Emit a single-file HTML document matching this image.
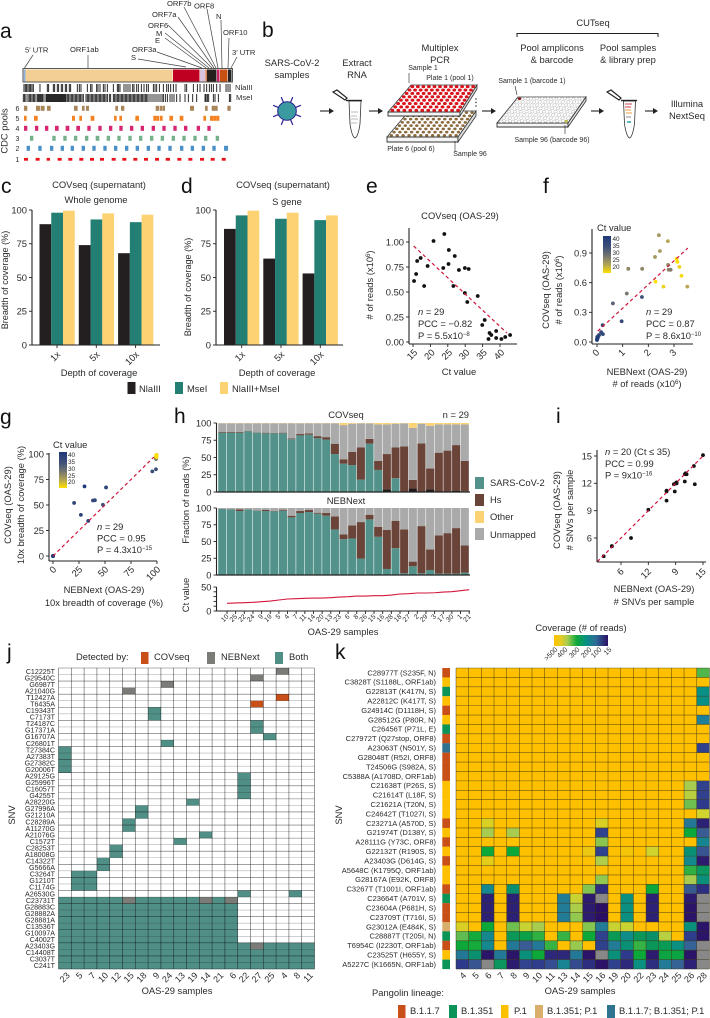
<!DOCTYPE html>
<html>
<head>
<meta charset="utf-8">
<title>CUTseq figure</title>
<style>
html,body{margin:0;padding:0;background:#fff;}
svg{display:block;font-family:"Liberation Sans",sans-serif;fill:#222;}
text{fill:#2a2a2a;}
.l{font-size:21px;fill:#111;}
.s9{font-size:9.4px;}
.s8{font-size:7.6px;}
.s7{font-size:7px;}
.m{text-anchor:middle;}
</style>
</head>
<body>
<svg id="fig" xmlns="http://www.w3.org/2000/svg" width="710" height="1018" viewBox="0 0 710 1018">
<defs>
<linearGradient id="ctGrad" x1="0" y1="0" x2="0" y2="1">
<stop offset="0" stop-color="#1e3a78"/><stop offset=".3" stop-color="#3f5078"/><stop offset=".55" stop-color="#77776e"/><stop offset=".78" stop-color="#b5a550"/><stop offset="1" stop-color="#ffe100"/>
</linearGradient>
<linearGradient id="covGrad" x1="0" y1="0" x2="1" y2="0">
<stop offset="0" stop-color="#ffc000"/><stop offset=".12" stop-color="#e8cc20"/><stop offset=".25" stop-color="#a8cc50"/><stop offset=".42" stop-color="#0da83a"/><stop offset=".6" stop-color="#0a8f86"/><stop offset=".78" stop-color="#2f6a96"/><stop offset="1" stop-color="#2b0f63"/>
</linearGradient>
</defs>

<!-- panel letters -->
<text class="l" x="0" y="38">a</text>
<text class="l" x="262" y="37">b</text>
<text class="l" x="1" y="193">c</text>
<text class="l" x="181" y="193">d</text>
<text class="l" x="366" y="193">e</text>
<text class="l" x="543" y="193">f</text>
<text class="l" x="0" y="424">g</text>
<text class="l" x="174" y="423">h</text>
<text class="l" x="556" y="423">i</text>
<text class="l" x="7" y="659">j</text>
<text class="l" x="335" y="659">k</text>

<!-- panel a -->
<g id="panelA">
<rect x="23" y="68.5" width="209.5" height="13.5" fill="#fff" stroke="#555" stroke-width="1"/>
<rect x="23.8" y="69.5" width="1.8" height="12" fill="#8fb3d9"/>
<rect x="25.6" y="69.5" width="147" height="12" fill="#f4cf95"/>
<rect x="173" y="69.5" width="26.5" height="12" fill="#c00020"/>
<rect x="200" y="69.5" width="5" height="12" fill="#d8c4dc"/>
<rect x="205.5" y="69.5" width="1.2" height="12" fill="#c85010"/>
<rect x="207" y="69.5" width="9.5" height="12" fill="#26201c"/>
<rect x="217" y="69.5" width="2.5" height="12" fill="#cc2060"/>
<rect x="220" y="69.5" width="7.5" height="12" fill="#c85010"/>
<rect x="228" y="69.5" width="3.5" height="12" fill="#222"/>
<g stroke="#444" stroke-width=".7">
<line x1="33" y1="55" x2="24.5" y2="68"/><line x1="88" y1="55" x2="88" y2="68"/><line x1="138" y1="59" x2="186" y2="67"/>
<line x1="157" y1="52" x2="202" y2="68"/><line x1="165" y1="38" x2="206" y2="68"/><line x1="165" y1="33" x2="209" y2="68"/>
<line x1="168" y1="25" x2="212" y2="68"/><line x1="178" y1="17" x2="214" y2="68"/><line x1="184" y1="7" x2="216" y2="68"/>
<line x1="207" y1="9" x2="218" y2="68"/><line x1="221" y1="20" x2="222" y2="68"/><line x1="229" y1="38" x2="228" y2="68"/><line x1="237" y1="57" x2="231" y2="68"/>
</g>
<g class="s8">
<text x="25" y="52.5">5′ UTR</text><text x="70" y="52">ORF1ab</text><text x="131" y="60">S</text><text x="132" y="52">ORF3a</text>
<text x="155" y="43">E</text><text x="156" y="36">M</text><text x="148" y="28">ORF6</text><text x="152" y="17">ORF7a</text>
<text x="167" y="6">ORF7b</text><text x="194" y="8.5">ORF8</text><text x="216" y="19">N</text><text x="223" y="35">ORF10</text><text x="232" y="55">3′ UTR</text>
<text x="235" y="90">NlaIII</text><text x="236" y="100">MseI</text>
</g>
<g class="s7">
<text x="15.5" y="111">6</text><text x="15.5" y="121">5</text><text x="15.5" y="131">4</text><text x="15.5" y="141">3</text><text x="15.5" y="151">2</text><text x="15.5" y="162">1</text>
</g>
<text class="s9 m" transform="translate(7.5,131) rotate(-90)">CDC pools</text>
</g>

<!-- panel b -->
<g id="panelB">
<g class="s9 m">
<text x="292" y="66">SARS-CoV-2</text><text x="292" y="78">samples</text>
<text x="357" y="66">Extract</text><text x="357" y="78">RNA</text>
<text x="440" y="51">Multiplex</text><text x="440" y="63">PCR</text>
<text x="552" y="51">Pool amplicons</text><text x="552" y="63">&amp; barcode</text>
<text x="628" y="51">Pool samples</text><text x="628" y="63">&amp; library prep</text>
<text x="593" y="26">CUTseq</text>
<text x="687" y="107">Illumina</text><text x="687" y="119">NextSeq</text>
</g>
<path d="M517 37V33.5H658V37" fill="none" stroke="#222" stroke-width="1"/>
<g class="s7 m">
<text x="423" y="70">Sample 1</text><text x="450" y="80">Plate 1 (pool 1)</text>
<text x="532" y="83">Sample 1 (barcode 1)</text><text x="552" y="142">Sample 96 (barcode 96)</text>
<text x="411" y="151">Plate 6 (pool 6)</text><text x="470" y="156">Sample 96</text>
</g>
<g>
<g stroke="#2a1f8f" stroke-width="1.2" id="virusSpikes"></g>
<circle cx="287" cy="111" r="9.3" fill="#3a9aa0" stroke="#2a1f8f" stroke-width="1"/>
</g>
<g id="wfArrows"></g>
<g>
<path d="M349 101H361L360 124Q358 137 355 138Q352 137 350 124Z" fill="#fff" stroke="#333" stroke-width=".8"/>
<path d="M346 100.5H362" stroke="#222" stroke-width="1.4"/>
<path d="M333 92L337 90L347 98L345 100Z" fill="#fff" stroke="#222" stroke-width="1.2"/>
<path d="M351 112H358M351 116H357M351 119H358M351 123H357" stroke="#bbb" stroke-width=".9"/>
</g>
<g>
<path d="M623.5 101H635.5L634.5 124Q632.5 137 629.5 138Q626.5 137 624.5 124Z" fill="#fff" stroke="#333" stroke-width=".8"/>
<path d="M621 100.5H637" stroke="#222" stroke-width="1.4"/>
<path d="M607 92L611 90L621 98L619 100Z" fill="#fff" stroke="#222" stroke-width="1.2"/>
<path d="M625 104H632M625 107H631" stroke="#c44" stroke-width="1"/>
<path d="M625 110H631M626 113H632" stroke="#e8a33a" stroke-width="1"/>
<path d="M626 117H631" stroke="#888" stroke-width="1"/>
<path d="M627 122H631" stroke="#1a9a9a" stroke-width="1.4"/>
</g>
<g id="plates"></g>
<path d="M409 73V83M515 86L517 95M565 134V125M455 152V141" stroke="#222" stroke-width=".6" fill="none"/>
<g fill="#222"><circle cx="476" cy="99" r=".7"/><circle cx="476" cy="102.5" r=".7"/><circle cx="476" cy="106" r=".7"/></g>
</g>

<!-- titles -->
<g class="s9">
<text class="m" x="99" y="188">COVseq (supernatant)</text><text class="m" x="96" y="203">Whole genome</text>
<text class="m" x="283" y="188">COVseq (supernatant)</text><text class="m" x="287" y="205">S gene</text>
<text class="m" x="460" y="219">COVseq (OAS-29)</text>
<text class="m" x="346" y="418">COVseq</text><text text-anchor="end" x="469" y="418">n = 29</text><text class="m" x="346" y="504">NEBNext</text>
</g>
<g class="s9">
<text class="m" font-size="9.1" style="font-size:9.1px" transform="translate(8,280) rotate(-90)">Breadth of coverage (%)</text>
<text class="m" font-size="9.1" style="font-size:9.1px" transform="translate(191,287) rotate(-90)">Breadth of coverage (%)</text>
<text class="m" x="99" y="376">Depth of coverage</text><text class="m" x="277" y="376">Depth of coverage</text>
<text class="m" transform="translate(373,285) rotate(-90)"># of reads (x10<tspan font-size="6" dy="-3">6</tspan><tspan dy="3">)</tspan></text>
<text class="m" x="459" y="375">Ct value</text>
<text class="m" transform="translate(549,290) rotate(-90)">COVseq (OAS-29)</text>
<text class="m" transform="translate(562,290) rotate(-90)"># of reads (x10<tspan font-size="6" dy="-3">6</tspan><tspan dy="3">)</tspan></text>
<text class="m" x="647" y="375">NEBNext (OAS-29)</text>
<text class="m" x="647" y="387"># of reads (x10<tspan font-size="6" dy="-3">6</tspan><tspan dy="3">)</tspan></text>
<text class="m" transform="translate(11,505) rotate(-90)">COVseq (OAS-29)</text>
<text class="m" transform="translate(24,505) rotate(-90)">10x breadth of coverage (%)</text>
<text class="m" x="104" y="593">NEBNext (OAS-29)</text><text class="m" x="104" y="606">10x breadth of coverage (%)</text>
<text class="m" transform="translate(189,500) rotate(-90)">Fraction of reads (%)</text>
<text class="m" transform="translate(189,595) rotate(-90)">Ct value</text>
<text class="m" x="343" y="635">OAS-29 samples</text>
<text class="m" transform="translate(560,510) rotate(-90)">COVseq (OAS-29)</text>
<text class="m" transform="translate(573,510) rotate(-90)"># SNVs per sample</text>
<text class="m" x="654" y="592">NEBNext (OAS-29)</text><text class="m" x="654" y="605"># SNVs per sample</text>
<text class="m" transform="translate(15,815) rotate(-90)">SNV</text>
<text class="m" x="177" y="994">OAS-29 samples</text>
<text class="m" transform="translate(342,815) rotate(-90)">SNV</text>
<text class="m" x="580" y="994">OAS-29 samples</text>
<text class="m" x="581" y="631">Coverage (# of reads)</text>
</g>

<!-- stats -->
<g class="s9">
<text x="418" y="315"><tspan font-style="italic">n</tspan> = 29</text><text x="418" y="327">PCC = −0.82</text><text x="418" y="339">P = 5.5x10<tspan font-size="6" dy="-3">−8</tspan></text>
<text x="646" y="315"><tspan font-style="italic">n</tspan> = 29</text><text x="646" y="327">PCC = 0.87</text><text x="646" y="339">P = 8.6x10<tspan font-size="6" dy="-3">−10</tspan></text>
<text x="97" y="530"><tspan font-style="italic">n</tspan> = 29</text><text x="97" y="541.5">PCC = 0.95</text><text x="97" y="553">P = 4.3x10<tspan font-size="6" dy="-3">−15</tspan></text>
<text x="605" y="455"><tspan font-style="italic">n</tspan> = 20 (Ct ≤ 35)</text><text x="605" y="467">PCC = 0.99</text><text x="605" y="478.5">P = 9x10<tspan font-size="6" dy="-3">−16</tspan></text>
</g>

<!-- legends -->
<g class="s9">
<rect x="127.5" y="382" width="8" height="12" fill="#231f20"/><text x="139" y="392">NlaIII</text>
<rect x="175" y="382" width="8" height="12" fill="#237f74"/><text x="187" y="392">MseI</text>
<rect x="220" y="382" width="8" height="12" fill="#fdd272"/><text x="232" y="392">NlaIII+MseI</text>
</g>
<g class="s9">
<rect x="475" y="477" width="9" height="12" fill="#52928a"/><text x="490" y="486">SARS-CoV-2</text>
<rect x="475" y="494" width="9" height="12" fill="#6b4439"/><text x="490" y="503">Hs</text>
<rect x="475" y="511" width="9" height="12" fill="#fdd272"/><text x="490" y="520">Other</text>
<rect x="475" y="528" width="9" height="12" fill="#a9aaa9"/><text x="490" y="538">Unmapped</text>
</g>
<g>
<text class="s9" x="597" y="231">Ct value</text>
<rect x="603" y="236" width="8" height="37" fill="url(#ctGrad)"/>
<g font-size="6.4"><text x="612.5" y="241">40</text><text x="612.5" y="248">35</text><text x="612.5" y="255">30</text><text x="612.5" y="262">25</text><text x="612.5" y="269">20</text></g>
</g>
<g>
<text class="s9" x="53" y="448">Ct value</text>
<rect x="59" y="452" width="8" height="36" fill="url(#ctGrad)"/>
<g font-size="6.4"><text x="68" y="457">40</text><text x="68" y="464">35</text><text x="68" y="471">30</text><text x="68" y="478">25</text><text x="68" y="484">20</text></g>
</g>
<g class="s9">
<text x="76" y="660">Detected by:</text>
<rect x="141" y="652" width="7.5" height="12" fill="#c84f17"/><text x="154" y="660">COVseq</text>
<rect x="207" y="652" width="8" height="12" fill="#7b7b78"/><text x="221" y="660">NEBNext</text>
<rect x="275" y="652" width="8" height="12" fill="#4f8f86"/><text x="289" y="660">Both</text>
</g>
<g>
<rect x="554" y="635" width="54" height="11" fill="url(#covGrad)"/>
</g>
<g class="s9">
<text x="372" y="996">Pangolin lineage:</text>
<rect x="398" y="1005" width="7.5" height="13" fill="#c84f17"/><text x="410" y="1014">B.1.1.7</text>
<rect x="449" y="1005" width="8" height="13" fill="#0a9458"/><text x="461" y="1014">B.1.351</text>
<rect x="501" y="1005" width="7.5" height="13" fill="#ffc000"/><text x="514" y="1014">P.1</text>
<rect x="535" y="1005" width="8" height="13" fill="#d9ae6b"/><text x="547" y="1014">B.1.351; P.1</text>
<rect x="607" y="1005" width="8" height="13" fill="#2f7390"/><text x="619" y="1014">B.1.1.7; B.1.351; P.1</text>
</g>
<g id="charts"></g>
</svg>

<script>
/* panel a data: positions and amplicon spans along the genome bar, in map units */
const nlaSites = [72,76,80,84,88,92,96,100,120,142,146,160,164,172,176,184,188,196,200,208,212,232,238,243,262,272,276,290,294,300,310,315,322,340,352,356,360,372,378,384,390,398,402,410,415,424,432,440,445,460,465,470,478,490,500,505,512,520,528,555,560,580,592,600,612,620,628,634,640,650,660,678,684,690];
const mseSites = [70,74,78,84,88,92,96,100,103,108,113,116,119,122,125,128,132,138,141,144,147,150,153,156,159,162,165,168,171,174,177,180,183,186,189,192,195,198,202,206,210,214,218,222,226,230,234,238,242,246,250,258,262,266,270,274,278,282,286,290,294,298,302,306,310,314,318,322,328,332,340,344,348,352,356,360,364,368,372,376,380,384,388,392,396,400,404,408,412,416,420,424,428,432,436,440,444,450,456,462,468,474,480,486,490,496,502,510,516,522,530,540,555,565,578,590,615,618,622,626,640,645,655,688,692];
const pool6 = [[72,82],[108,120],[122,134],[141,152],[222,233],[246,254],[258,267],[346,354],[363,373],[467,478],[480,486],[487,495],[570,582],[615,623],[635,645],[645,653],[682,692]];
const pool5 = [[72,80],[102,113],[216,225],[238,246],[272,283],[342,350],[358,366],[406,417],[460,470],[470,478],[480,488],[508,519],[539,550],[610,618],[630,640],[640,650],[650,658]];
const pool4 = [[72,82],[105,115],[135,145],[165,176],[197,208],[229,240],[262,272],[295,305],[327,337],[358,368],[390,400],[422,432],[455,465],[487,497],[520,530],[552,562],[590,600],[622,632]];
const pool3 = [[90,100],[157,167],[190,200],[222,232],[255,265],[287,298],[320,330],[352,362],[385,395],[417,427],[450,460],[482,492],[515,525],[547,557],[580,590],[612,622],[647,657]];
const pool2 = [[80,90],[115,125],[150,160],[182,192],[212,222],[245,255],[277,287],[310,320],[342,352],[375,385],[407,417],[440,450],[472,482],[505,515],[540,550],[572,582],[605,615],[637,647],[672,684]];
const pool1 = [[72,84],[107,119],[140,150],[173,185],[205,217],[238,250],[270,282],[300,312],[335,347],[367,379],[400,412],[432,444],[465,477],[497,510],[532,544],[565,577],[600,612],[632,644],[665,677]];

/* panel c, d */
const depthLabels = ['1x','5x','10x'];
const wgNla = [89.5,74,68];
const wgMse = [98,93,91];
const wgBoth = [99.5,97.5,96.5];
const sNla = [86,64,53];
const sMse = [96,93.5,92.5];
const sBoth = [99.5,98,96];
const pctTicks = [0,25,50,75,100];

/* panel e */
const eCt = [15.3,15.9,16.2,17.2,18.2,19.2,20.9,23.7,24.0,25.2,25.3,26.6,27.0,28.2,29.9,31.0,29.9,30.6,33.6,34.9,35.6,36.7,37.0,37.5,38.9,38.9,40.4,41.5,42.9];
const eReads = [.61,.68,.81,.84,.56,.76,1.01,.74,1.08,.78,.92,.56,.86,.72,.74,.73,.49,.40,.46,.17,.22,.03,.09,.07,.11,.04,.03,.05,.07];
const eTrendX = [15.2,42];
const eTrendY = [.96,.09];
const eXTicks = [15,20,25,30,35,40];
const eYTicks = [0,.25,.5,.75,1];
const eYLabels = ['0.00','0.25','0.50','0.75','1.00'];

/* panel f */
const fNeb = [0,0,.03,.01,.05,.08,.16,.23,.22,.62,.96,1.16,1.22,1.76,1.75,2.26,2.28,2.41,2.45,2.59,2.76,2.77,2.79,2.87,3.10,3.13,3.21,3.29,3.52];
const fCov = [.02,.03,.04,.05,.06,.07,.10,.08,.17,.39,.21,.49,.74,.74,.455,.86,.61,1.08,.92,.56,1.02,.78,.73,.73,.84,.81,.76,.67,.56];
const fCt = [41,40,40,39,39,38,37,37,36,33,37,30,28,28,35,25,18,25,25,20,24,27,28,29,18,18,20,19,24];
const fTrendX = [.03,3.54];
const fTrendY = [.11,.95];
const fXTicks = [0,1,2,3];
const fYTicks = [0,.3,.6,.9];
const fYLabels = ['0.0','0.3','0.6','0.9'];

/* panel g */
const gNeb = [0,0,0,0,0,0,0,30.3,51,20.3,26.8,33.9,38.4,40.3,48,95.5,99,99,99,99,99.5,99.5,99.5,99.5,99.5,99.5,99.5,99.5,99];
const gCov = [0,0,0,0,0,0,0,68.2,67.2,52,40.3,34.4,54.4,54.7,50.2,83,85,95,96,97,98,98,98.5,98.5,99,99,99,97,98];
const gCt = [41,41,40,40,40,39,39,40,38,37,38,39,37,37,35,36,35,30,28,27,26,25,24,23,22,20,19,18,18];
const gTrendX = [0,97];
const gTrendY = [0,97];

/* panel h */
const hSamples = ['10','25','22','24','9','19','5','4','7','11','14','20','13','23','6','8','26','15','16','28','18','27','2','29','3','17','30','1','21'];
const covSars = [86,86,86,88,86,85,85,85,76.5,82,83,78,76,55,41,39,18,70,32,0,20,0,0,0,0,0,0,0,0];
const covHs = [1,1,1,.4,.6,1,.6,1,1,2,2,3,3.5,15,6.5,19,46.5,7,13,51,44.5,66,12.5,70,30,56.5,60,66,44];
const covOther = [.3,.3,.3,.3,.3,.3,.3,.3,.3,.3,.3,.3,.3,.3,3,1,.5,.5,2,2,1,.5,7,1,4,2,2,2,2];
const covLow = [0,0,0,0,0,0,0,0,0,0,0,0,0,0,0,0,0,0,0,4,0,0,5,.5,4,.5,0,2,1];
const nebSars = [98.5,98,95.5,98,96,95.5,95,96,86,92.5,94,91.5,88.5,68,53.5,54.5,24.5,83,57,9,40,2.5,13,2.5,7.5,2,2,2,3.5];
const nebHs = [.3,.3,2.5,.2,.3,1.5,.5,1.5,2.5,3,3,1.5,4,19.5,7,19.5,54.5,7,15,58.5,41,65.5,7,70.5,30.5,57,60.5,68,40.5];
const ctValues = [16,16.7,17.4,18,19.4,20.8,22.9,25,25.7,26.4,27,27,27.8,29,29.8,31.2,31.2,32,32,33.3,35.4,36,37.5,37.5,38,39.5,40.2,42.3,44.4];
const ctTicks = [0,10,20,30,40,50];
const ctTickLabels = ['0','','','','','50'];

/* panel i */
const iNeb = [15,14,13,13.2,13.1,14.1,13,12.1,11.8,12,11,11,11.9,11,9,7.1,5,5,4.1,12.1];
const iCov = [15.1,13.9,13,13,13.1,11.9,12.2,12.1,11.9,12,11.2,11.1,11.1,10.1,9.1,6,5.1,5.1,4,12];
const iTrendX = [3.4,15];
const iTrendY = [3.4,15];
const iTicks = [6,9,12,15];
const iYLabels = ['6','9','12','15'];
const iXTicks = [6,9,12,15];
const iXLabels = ['6','12','9','15'];

/* panel j */
const jSnv = ['C12225T','G29540C','G6987T','A21040G','T12427A','T6435A','C19343T','C7173T','T24187C','G17371A','G16707A','C26801T','T27384C','A27383T','G27382C','G20006T','A29125G','G25996T','C16057T','G4255T','A28220G','G27996A','G21210A','C28289A','A11270G','A21076G','C1572T','C28253T','A18008G','C14322T','G5666A','C3264T','G1210T','C1174G','A26530G','C23731T','G28883C','G28882A','G28881A','C13536T','G10097A','C4002T','A23403G','C14408T','C3037T','C241T'];
const jSamples = ['23','5','7','10','12','15','18','9','24','13','19','14','21','6','22','27','25','4','8','11'];
/* detection: row index, sample index, caller (1 COVseq, 2 NEBNext, 3 Both) */
const jRowsSparse = [0,1,2,3,4,5,6,7,8,9,10,11,12,13,14,15,16,17,18,19,20,21,22,23,24,25,26,27,28,29,30,31,31,32,32,33,33,34,34];
const jColsSparse = [17,15,8,5,17,15,7,7,15,15,16,8,0,0,0,0,14,14,14,14,10,6,6,5,5,11,9,4,4,3,3,1,2,1,2,1,2,14,18];
const jKindSparse = [2,2,2,2,1,1,3,3,3,3,3,3,3,3,3,3,3,3,3,3,3,3,3,3,3,3,3,3,3,3,3,3,3,3,3,3,3,3,3];
const jFirstFourteenRows = [35,36,37,38,39,40,41];
const jAllColsRows = [42,43,44,45];
const jNebOnlyRows = [35,35,35,42];
const jNebOnlyCols = [5,11,13,15];

/* panel k */
const kSnv = ['C28977T (S235F, N)','C3828T (S1188L, ORF1ab)','G22813T (K417N, S)','A22812C (K417T, S)','G24914C (D1118H, S)','G28512G (P80R, N)','C26456T (P71L, E)','C27972T (Q27stop, ORF8)','A23063T (N501Y, S)','G28048T (R52I, ORF8)','T24506G (S982A, S)','C5388A (A1708D, ORF1ab)','C21638T (P26S, S)','C21614T (L18F, S)','C21621A (T20N, S)','C24642T (T1027I, S)','C23271A (A570D, S)','G21974T (D138Y, S)','A28111G (Y73C, ORF8)','G22132T (R190S, S)','A23403G (D614G, S)','A5648C (K1795Q, ORF1ab)','G28167A (E92K, ORF8)','C3267T (T1001I, ORF1ab)','C23664T (A701V, S)','C23604A (P681H, S)','C23709T (T716I, S)','G23012A (E484K, S)','C28887T (T205I, N)','T6954C (I2230T, ORF1ab)','C23525T (H655Y, S)','A5227C (K1665N, ORF1ab)'];
const kSamples = ['4','5','6','7','8','9','10','11','13','14','15','16','19','20','22','23','24','25','26','28'];
const kLineage = ['o','y','g','y','o','y','g','o','b','o','o','o','y','y','y','y','o','y','o','y','o','y','y','o','g','o','o','t','g','o','y','g'];
const N = null;
const H = 600;
const coverage = [
[H,H,H,H,H,H,H,H,H,H,H,H,H,H,H,H,H,H,H,340],
[H,H,H,H,H,H,H,H,H,H,H,H,H,H,H,H,H,H,H,H],
[H,H,H,H,H,H,H,H,H,H,H,H,H,H,H,H,H,H,H,200],
[H,H,H,H,H,H,H,H,H,H,H,H,H,H,H,H,H,H,H,200],
[H,H,H,H,H,H,H,H,H,H,H,H,H,H,H,H,H,H,H,H],
[H,H,H,H,H,H,H,H,H,H,H,H,H,H,H,H,H,H,H,150],
[H,H,H,H,H,H,H,H,H,H,H,H,H,H,H,H,H,H,H,H],
[H,H,H,H,H,H,H,H,H,H,H,H,H,H,H,H,H,H,H,H],
[H,H,H,H,H,H,H,H,H,H,H,H,H,H,H,H,H,H,H,60],
[H,H,H,H,H,H,H,H,H,H,H,H,H,H,H,H,H,H,H,H],
[H,H,H,H,H,H,H,H,H,H,H,H,H,H,H,H,H,H,H,H],
[H,H,H,H,H,H,H,H,H,H,H,H,H,H,H,H,H,H,H,H],
[H,H,H,H,H,H,H,H,H,H,H,H,H,H,H,H,H,H,400,60],
[H,H,H,H,H,H,H,H,H,H,H,H,H,H,H,H,H,H,420,60],
[H,H,H,H,H,H,H,H,H,H,H,H,H,H,H,H,H,H,360,50],
[H,H,H,H,H,H,H,H,H,H,H,H,H,H,H,H,H,H,H,450],
[H,H,460,H,H,H,H,H,H,H,H,460,H,H,H,H,H,H,140,30],
[H,H,400,H,400,H,H,H,H,H,H,60,H,H,H,H,H,H,300,100],
[H,H,H,H,H,H,H,H,H,H,H,380,H,H,H,H,H,H,H,170],
[H,H,300,H,300,H,H,H,H,H,480,60,H,490,H,450,H,H,230,90],
[H,H,470,H,H,H,H,H,H,H,H,410,H,H,H,H,H,H,180,25],
[H,H,H,H,H,H,H,H,H,H,H,H,H,H,H,H,H,H,320,260],
[H,H,H,H,H,H,H,H,H,H,H,385,H,H,H,H,H,H,400,220],
[H,H,175,H,240,H,H,H,H,H,375,40,H,H,H,300,H,H,95,40],
[H,H,30,H,30,H,H,H,145,440,25,N,H,210,H,30,H,H,25,N],
[H,H,30,H,30,H,H,H,145,405,25,15,H,210,H,30,H,H,20,N],
[H,H,30,H,30,H,H,H,145,385,25,15,H,210,H,30,H,H,20,N],
[460,H,300,H,360,440,400,H,H,H,375,145,440,440,H,H,H,H,215,20],
[350,305,175,H,265,285,320,H,325,H,300,60,270,190,265,250,420,H,55,20],
[300,305,175,H,140,100,140,325,H,390,H,60,145,230,325,265,270,210,110,N],
[140,240,20,140,20,220,300,35,35,140,18,N,220,50,300,25,290,290,20,N],
[50,90,N,260,25,65,55,80,165,75,40,18,60,35,210,40,145,110,30,N]
];
const covTickLabels = ['>500','400','300','200','100','15'];
const covTickX = [558,568,580,592,602,612];

/* colour ramps */
const ctStopsV = [18,22,25,30,35,40];
const ctStopsC = ['#ffe100','#d9c240','#a89a60','#77776e','#3f5078','#1e3a78'];
const covStopsV = [15,50,100,150,200,250,300,350,400,450,500];
const covStopsC = ['#2b0f63','#2e3a8c','#3a5c94','#1f7f98','#0a8f86','#0a9068','#0da83a','#60bb50','#a8cc50','#d0d42c','#ffc000'];
const lineageC = {o:'#c84f17',y:'#ffc000',g:'#0a9458',b:'#2f7390',t:'#d9ae6b'};

const SVGNS = 'http://www.w3.org/2000/svg';
const root = document.getElementById('charts');
function mk(tag, attrs, parent){
  const e = document.createElementNS(SVGNS, tag);
  for (const k in attrs) e.setAttribute(k, attrs[k]);
  (parent || root).appendChild(e);
  return e;
}
function scale(d0,d1,r0,r1){ return v => r0 + (v-d0)*(r1-r0)/(d1-d0); }
function hex(c){ return [1,3,5].map(i=>parseInt(c.substr(i,2),16)); }
function ramp(vs,cs,v){
  if (v<=vs[0]) return cs[0];
  for (let i=1;i<vs.length;i++){
    if (v<=vs[i]){
      const t=(v-vs[i-1])/(vs[i]-vs[i-1]), a=hex(cs[i-1]), b=hex(cs[i]);
      return 'rgb('+a.map((x,j)=>Math.round(x+(b[j]-x)*t)).join(',')+')';
    }
  }
  return cs[cs.length-1];
}
function group(){ return mk('g',{}); }

function yAxis(g,x,top,bottom,ticks,labels,fy,size){
  const ax = mk('line',{x1:x,y1:top,x2:x,y2:bottom,stroke:'#222','stroke-width':1.1},g);
  
  
  ticks.forEach((t,i)=>{
    const tk = mk('line',{x1:x-3,y1:fy(t),x2:x,y2:fy(t),stroke:'#222','stroke-width':.9},g);
    
    
    if (labels[i]!==''){
      const tx = mk('text',{x:x-5,y:fy(t)+3.3,'text-anchor':'end','font-size':size||9.4},g);
      tx.textContent = labels[i];
      
      
    }
  });
}
function xAxis(g,y,left,right,ticks,labels,fx,size,dx,dy){
  const ax = mk('line',{x1:left,y1:y,x2:right,y2:y,stroke:'#222','stroke-width':1.1},g);
  
  
  ticks.forEach((t,i)=>{
    const tk = mk('line',{x1:fx(t),y1:y,x2:fx(t),y2:y+3,stroke:'#222','stroke-width':.9},g);
    
    
    const lx = fx(t)+(dx===undefined?4:dx), ly = y+(dy===undefined?10:dy);
    const tx = mk('text',{x:lx,y:ly,'text-anchor':'end','font-size':size||9.4,transform:'rotate(-45 '+lx+' '+ly+')'},g);
    tx.textContent = labels[i];
    
    
  });
}
function trend(g,xs,ys,fx,fy){
  const l = mk('line',{x1:fx(xs[0]),y1:fy(ys[0]),x2:fx(xs[1]),y2:fy(ys[1]),stroke:'#d4163c','stroke-width':1.2,'stroke-dasharray':'3.5 2.8'},g);
  
  
}

/* panel a marks */
(function(){
  const g = group();
  
  
  const fx = scale(70,695,23.3,231.7);
  nlaSites.forEach(s=>{
    const l = mk('line',{x1:fx(s),x2:fx(s),y1:84,y2:92,stroke:'#111','stroke-width':.9},g);
    
    
  });
  mseSites.forEach(s=>{
    const l = mk('line',{x1:fx(s),x2:fx(s),y1:94,y2:102,stroke:'#111','stroke-width':.9},g);
    
    
  });
  [[pool6,108.3,'#a9865a',5],[pool5,118.3,'#f58220',5],[pool4,128.3,'#d6266f',5],[pool3,138.3,'#74b08a',5],[pool2,148.3,'#4a90c8',5],[pool1,159.3,'#e8141c',2.8]].forEach(p=>{
    p[0].forEach(a=>{
      const r = mk('rect',{x:fx(a[0]),y:p[1]-p[3]/2,width:fx(a[1])-fx(a[0]),height:p[3],fill:p[2]},g);
      
      
    });
  });
})();

/* panel b drawing */
(function(){
  const sp = document.getElementById('virusSpikes');
  for (let i=0;i<8;i++){
    const a=i*Math.PI/4+Math.PI/8;
    const l = mk('line',{x1:287,y1:111,x2:287+15*Math.cos(a),y2:111+15*Math.sin(a)},sp);
    
    
  }
  const ar = document.getElementById('wfArrows');
  [[320,334],[369,383],[482,496],[591,604],[645,658]].forEach(a=>{
    const l = mk('line',{x1:a[0],y1:111,x2:a[1]-2,y2:111,stroke:'#222','stroke-width':1.1},ar);
    
    
    const h = mk('path',{d:'M'+a[1]+' 111L'+(a[1]-5)+' 108V114Z',fill:'#222'},ar);
    
    
  });
  const pl = document.getElementById('plates');
  function plate(a,b,c,d,th,well,r,sp,stroke){
    const t = mk('path',{d:`M${a}L${b}L${c}L${d}Z`,fill:'#fff',stroke:'#333','stroke-width':.8},pl);
    
    
    const s = mk('path',{d:`M${d}L${c}L${c[0]},${c[1]+th}L${d[0]},${d[1]+th}Z`,fill:'#f4f4f4',stroke:'#333','stroke-width':.9},pl);
    
    
    const s2 = mk('path',{d:`M${c}L${b}L${b[0]},${b[1]+th}L${c[0]},${c[1]+th}Z`,fill:'#ddd',stroke:'#333','stroke-width':.8},pl);
    
    
    for(let j=0;j<8;j++)for(let i=0;i<12;i++){
      const u=(i+.5)/12, v=(j+.5)/8;
      const tx=a[0]+(b[0]-a[0])*u, ty=a[1]+(b[1]-a[1])*u, bx=d[0]+(c[0]-d[0])*u, by=d[1]+(c[1]-d[1])*u;
      let f=well, st=stroke||'none';
      if (sp && i===0 && j===0) f=sp[0];
      if (sp && i===11 && j===7) f=sp[1];
      const w = mk('ellipse',{cx:tx+(bx-tx)*v,cy:ty+(by-ty)*v,rx:r,ry:r*.8,fill:f,stroke:st,'stroke-width':.4},pl);
      
      
    }
  }
  plate([409,111],[476,111],[458,137],[387,137],5,'#8a6a3c',1.7);
  plate([411,85],[477,85],[460,112],[388,112],4,'#d8141c',1.9);
  plate([518,97],[586,97],[568,123],[497,123],4,'#fff',1.8,['#8a1010','#c8c83c'],'#999');
})();

/* panel c and d */
function barChart(a,b,c,x0,xAxisLeft,xAxisRight,tickCx){
  const g = group();
  
  
  const fy = scale(0,100,345,210);
  const w = 11.75, step = 39.3;
  [[a,'#231f20'],[b,'#237f74'],[c,'#fdd272']].forEach((s,si)=>{
    s[0].forEach((v,i)=>{
      const r = mk('rect',{x:x0+i*step+si*w,y:fy(v),width:w,height:345-fy(v),fill:s[1]},g);
      
      
    });
  });
  yAxis(g,xAxisLeft,210,345,pctTicks,pctTicks.map(String),fy);
  xAxis(g,345,xAxisLeft,xAxisRight,[0,1,2],depthLabels,i=>tickCx+i*39.3);
}
barChart(wgNla,wgMse,wgBoth,39.5,32,160,57);
barChart(sNla,sMse,sBoth,224,216,343,241.7);

/* panel e */
(function(){
  const g = group();
  
  
  const fx = scale(15,40,413,500), fy = scale(0,1,342,242);
  eCt.forEach((c,i)=>{
    const p = mk('circle',{cx:fx(c),cy:fy(eReads[i]),r:1.9,fill:'#111'},g);
    
    
  });
  trend(g,eTrendX,eTrendY,fx,fy);
  yAxis(g,409,228,344,eYTicks,eYLabels,fy);
  xAxis(g,344,409,517,eXTicks,eXTicks.map(String),fx,9.4,5,9);
})();

/* panel f */
(function(){
  const g = group();
  
  
  const fx = scale(0,3,597,674), fy = scale(0,.9,342,253);
  fNeb.forEach((v,i)=>{
    const p = mk('circle',{cx:fx(v),cy:fy(fCov[i]),r:1.9,fill:ramp(ctStopsV,ctStopsC,fCt[i])},g);
    
    
  });
  trend(g,fTrendX,fTrendY,fx,fy);
  yAxis(g,592,229,344,fYTicks,fYLabels,fy);
  xAxis(g,344,592,693,fXTicks,fXTicks.map(String),fx,9.4,3,9);
})();

/* panel g */
(function(){
  const g = group();
  
  
  const fx = scale(0,100,53,157), fy = scale(0,100,556,454);
  gNeb.forEach((v,i)=>{
    const p = mk('circle',{cx:fx(v),cy:fy(gCov[i]),r:1.9,fill:ramp(ctStopsV,ctStopsC,gCt[i])},g);
    
    
  });
  trend(g,gTrendX,gTrendY,fx,fy);
  yAxis(g,49,453,561,pctTicks,pctTicks.map(String),fy);
  xAxis(g,561,49,157,pctTicks,pctTicks.map(String),fx,9.4,4,9);
})();

/* panel h */
(function(){
  const g = group();
  
  
  const barW = 8.66, left = 218;
  function stacked(sars,hs,other,low,y0,y100){
    const fy = scale(0,100,y0,y100);
    sars.forEach((_,i)=>{
      let acc = 0;
      const x = left+i*barW;
      const o = other ? other[i] : 0, lo = low ? low[i] : 0;
      const parts = [[lo,'#1f1a18'],[sars[i],'#52928a'],[hs[i],'#6b4439'],[100-lo-sars[i]-hs[i]-o,'#a9aaa9'],[o,'#fdd272']];
      parts.forEach(pt=>{
        if (pt[0]<=0) return;
        const r = mk('rect',{x:x+.25,y:fy(acc+pt[0]),width:barW-.55,height:fy(acc)-fy(acc+pt[0]),fill:pt[1]},g);
        
        
        acc += pt[0];
      });
    });
    yAxis(g,216.5,y100,y0,pctTicks,pctTicks.map(String),fy);
    const ax = mk('line',{x1:216.5,x2:470,y1:y0,y2:y0,stroke:'#222','stroke-width':1.2},g);
    
    
  }
  stacked(covSars,covHs,covOther,covLow,492,423);
  stacked(nebSars,nebHs,null,null,575,508);
  const fxI = i => 227+i*8.65;
  const fy = scale(0,50,611,587);
  yAxis(g,216.5,587,611,ctTicks,ctTickLabels,fy);
  xAxis(g,611,216.5,470,hSamples.map((_,i)=>i),hSamples,fxI,6.8,2,6);
  const line = mk('polyline',{points:ctValues.map((v,i)=>fxI(i)+','+fy(v)).join(' '),fill:'none',stroke:'#d4163c','stroke-width':1.1},g);
  
  
})();

/* panel i */
(function(){
  const g = group();
  
  
  const fx = scale(6,15,621,703), fy = scale(6,15,538,456);
  iNeb.forEach((v,i)=>{
    const p = mk('circle',{cx:fx(v),cy:fy(iCov[i]),r:1.9,fill:'#111'},g);
    
    
  });
  trend(g,iTrendX,iTrendY,fx,fy);
  yAxis(g,597,450,562,iTicks,iYLabels,fy);
  xAxis(g,562,597,706,iXTicks,iXLabels,fx,9.4,3.5,10);
})();

/* panel j */
(function(){
  const g = group();
  
  
  const L=58.5, T=668, cw=12.8, rh=301/46;
  const KC = {1:'#c84f17',2:'#7b7b78',3:'#4f8f86'};
  function cell(r,c,k){
    const e = mk('rect',{x:L+c*cw,y:T+r*rh,width:cw+.1,height:rh+.1,fill:KC[k]},g);
    
    
  }
  jRowsSparse.forEach((r,i)=>cell(r,jColsSparse[i],jKindSparse[i]));
  jFirstFourteenRows.forEach(r=>{ for(let c=0;c<14;c++) cell(r,c,3); });
  jAllColsRows.forEach(r=>{ jSamples.forEach((_,c)=>cell(r,c,3)); });
  jNebOnlyRows.forEach((r,i)=>cell(r,jNebOnlyCols[i],2));
  for(let r=0;r<=46;r++){
    const l = mk('line',{x1:L,x2:L+20*cw,y1:T+r*rh,y2:T+r*rh,stroke:'#000','stroke-opacity':r%2?.3:.6,'stroke-width':.6},g);
    
    
  }
  for(let c=0;c<=20;c++){
    const l = mk('line',{x1:L+c*cw,x2:L+c*cw,y1:T,y2:T+46*rh,stroke:'#000','stroke-opacity':.6,'stroke-width':.65},g);
    
    
  }
  jSnv.forEach((s,r)=>{
    const t = mk('text',{x:55,y:T+r*rh+rh/2+2.5,'text-anchor':'end','font-size':7.1},g);
    t.textContent = s;
    
    
  });
  jSamples.forEach((s,c)=>{
    const lx=L+c*cw+cw/2+5.5, ly=T+46*rh+7;
    const t = mk('text',{x:lx,y:ly,'text-anchor':'end','font-size':9,transform:'rotate(-45 '+lx+' '+ly+')'},g);
    t.textContent = s;
    
    
  });
})();

/* panel k */
(function(){
  const g = group();
  
  
  const L=456, T=668, cw=12.67, rh=301/32;
  coverage.forEach((row,r)=>{
    row.forEach((v,c)=>{
      const e = mk('rect',{x:L+c*cw,y:T+r*rh,width:cw+.1,height:rh+.1,fill:v===null?'#888888':ramp(covStopsV,covStopsC,v)},g);
      
      
    });
    const s = mk('rect',{x:442.3,y:T+r*rh,width:7.7,height:rh+.1,fill:lineageC[kLineage[r]]},g);
    
    
    const t = mk('text',{x:436,y:T+r*rh+rh/2+2.6,'text-anchor':'end','font-size':7.5},g);
    t.textContent = kSnv[r];
    
    
  });
  for(let r=0;r<=32;r++){
    const l = mk('line',{x1:L,x2:L+20*cw,y1:T+r*rh,y2:T+r*rh,stroke:'#3a3010','stroke-opacity':.75,'stroke-width':.6},g);
    
    
  }
  for(let c=0;c<=20;c++){
    const l = mk('line',{x1:L+c*cw,x2:L+c*cw,y1:T,y2:T+32*rh,stroke:'#3a3010','stroke-opacity':.75,'stroke-width':.6},g);
    
    
  }
  kSamples.forEach((s,c)=>{
    const lx=L+c*cw+cw/2+4.5, ly=T+32*rh+7;
    const t = mk('text',{x:lx,y:ly,'text-anchor':'end','font-size':9,transform:'rotate(-45 '+lx+' '+ly+')'},g);
    t.textContent = s;
    
    
  });
  covTickLabels.forEach((s,i)=>{
    const lx=covTickX[i], ly=650;
    const t = mk('text',{x:lx,y:ly,'text-anchor':'end','font-size':7,transform:'rotate(-45 '+lx+' '+ly+')'},g);
    t.textContent = s;
    
    
  });
})();
</script>
</body>
</html>
